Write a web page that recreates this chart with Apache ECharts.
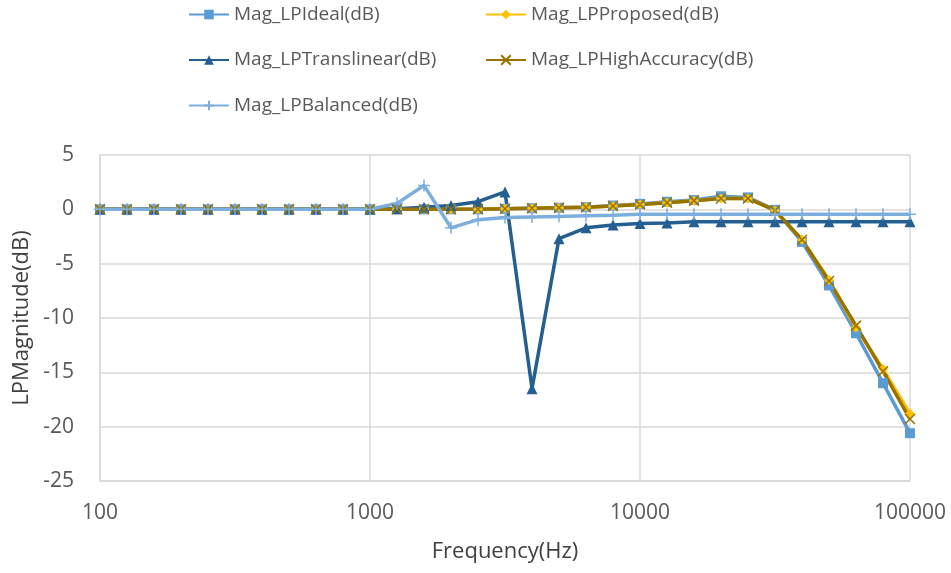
<!DOCTYPE html>
<html>
<head>
<meta charset="utf-8">
<script src="https://cdn.jsdelivr.net/npm/echarts@6/dist/echarts.min.js"></script>
<style>
  html, body { margin: 0; padding: 0; background: #fff; }
  #chart { width: 951px; height: 573px; }
</style>
</head>
<body>
<div id="chart"></div>
<script>
// frequency points (Hz), 10 per decade
const freq = [100, 125.89, 158.49, 199.53, 251.19, 316.23, 398.11, 501.19, 630.96, 794.33,
  1000, 1258.9, 1584.9, 1995.3, 2511.9, 3162.3, 3981.1, 5011.9, 6309.6, 7943.3,
  10000, 12589, 15849, 19953, 25119, 31623, 39811, 50119, 63096, 79433, 100000];

const magIdeal = [0, 0, 0, 0, 0, 0, 0, 0, 0, 0,
  0, 0, 0, 0, 0, 0.05, 0.1, 0.15, 0.2, 0.35,
  0.5, 0.7, 0.85, 1.2, 1.1, -0.05, -3.0, -7.0, -11.4, -16.0, -20.6];
const magProposed = [0, 0, 0, 0, 0, 0, 0, 0, 0, 0,
  0, 0, 0, 0, 0, 0.05, 0.1, 0.15, 0.2, 0.3,
  0.45, 0.6, 0.8, 1.0, 1.0, -0.1, -2.8, -6.5, -10.9, -14.7, -18.8];
const magTranslinear = [0, 0, 0, 0, 0, 0, 0, 0, 0, 0,
  0, 0.05, 0.2, 0.35, 0.7, 1.6, -16.5, -2.7, -1.7, -1.45,
  -1.3, -1.25, -1.15, -1.15, -1.15, -1.15, -1.15, -1.15, -1.15, -1.15, -1.15];
const magHighAcc = [0, 0, 0, 0, 0, 0, 0, 0, 0, 0,
  0, 0, 0, 0, 0, 0.05, 0.1, 0.15, 0.2, 0.3,
  0.45, 0.6, 0.8, 1.0, 1.0, -0.1, -2.8, -6.6, -10.7, -14.9, -19.3];
const magBalanced = [0, 0, 0, 0, 0, 0, 0, 0, 0, 0,
  0, 0.55, 2.2, -1.7, -0.95, -0.75, -0.7, -0.65, -0.6, -0.55,
  -0.45, -0.45, -0.45, -0.45, -0.45, -0.45, -0.45, -0.45, -0.45, -0.45, -0.45];

const yTicks = [-25, -20, -15, -10, -5, 0, 5];

function pairs(vals) {
  return freq.map((f, i) => [f, vals[i]]);
}

const FONT = 'Open Sans';
const gridColor = '#d9d9d9';

function mkSeries(name, vals, color, symbol, size, extra) {
  return Object.assign({
    name: name,
    type: 'line',
    data: pairs(vals),
    symbol: symbol,
    symbolSize: size,
    lineStyle: { color: color, width: 3.5 },
    itemStyle: { color: color },
    emphasis: { disabled: true }
  }, extra || {});
}

const legendText = { fontFamily: FONT, fontSize: 19, color: '#595959' };

let option = {
  animation: false,
  legend: [
    {
      left: 183, top: 0, orient: 'vertical', itemGap: 26.5,
      itemWidth: 40, itemHeight: 12,
      textStyle: legendText,
      data: ['Mag_LPIdeal(dB)', 'Mag_LPTranslinear(dB)', 'Mag_LPBalanced(dB)']
    },
    {
      left: 480, top: 0, orient: 'vertical', itemGap: 26.5,
      itemWidth: 40, itemHeight: 12,
      textStyle: legendText,
      data: ['Mag_LPProposed(dB)', 'Mag_LPHighAccuracy(dB)']
    }
  ],
  grid: { left: 100, right: 41, top: 155, bottom: 92, containLabel: false },
  xAxis: {
    type: 'log', logBase: 10, min: 100, max: 100000,
    name: 'Frequency(Hz)', nameLocation: 'middle', nameGap: 60,
    nameTextStyle: { fontFamily: FONT, fontSize: 22, color: '#404040' },
    axisLine: { onZero: false, lineStyle: { color: gridColor, width: 1.5 } },
    axisTick: { show: false },
    axisLabel: { fontFamily: FONT, fontSize: 21, color: '#595959', margin: 22,
      formatter: v => String(Math.round(v)) },
    splitLine: { show: true, lineStyle: { color: gridColor, width: 1.5 } },
    minorSplitLine: { show: false }
  },
  yAxis: {
    type: 'value', min: yTicks[0], max: yTicks[yTicks.length - 1], interval: 5,
    name: 'LPMagnitude(dB)', nameLocation: 'middle', nameGap: 66,
    nameTextStyle: { fontFamily: FONT, fontSize: 22, color: '#404040' },
    axisLine: { show: true, lineStyle: { color: gridColor, width: 1.5 } },
    axisTick: { show: false },
    axisLabel: { fontFamily: FONT, fontSize: 21, color: '#595959', margin: 26 },
    splitLine: { show: true, lineStyle: { color: gridColor, width: 1.5 } }
  },
  series: [
    mkSeries('Mag_LPIdeal(dB)', magIdeal, '#5b9bd5', 'rect', 10),
    mkSeries('Mag_LPProposed(dB)', magProposed, '#ffc000', 'diamond', 10),
    mkSeries('Mag_LPTranslinear(dB)', magTranslinear, '#255e91', 'triangle', 11),
    mkSeries('Mag_LPHighAccuracy(dB)', magHighAcc, '#997300', 'path://M0,0L10,10M10,0L0,10', 10, {
      itemStyle: { color: '#997300', borderColor: '#997300', borderWidth: 1.5 }
    }),
    mkSeries('Mag_LPBalanced(dB)', magBalanced, '#7cafdd', 'path://M5,0L5,10M0,5L10,5', 12, {
      itemStyle: { color: '#7cafdd', borderColor: '#7cafdd', borderWidth: 1.5 }
    })
  ]
};

let myChart = echarts.init(document.getElementById('chart'));
myChart.setOption(option);
</script>
</body>
</html>
